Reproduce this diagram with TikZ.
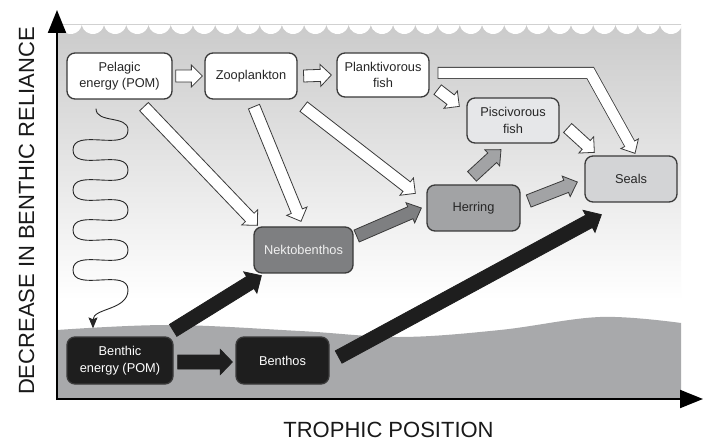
\documentclass[tikz,border=0pt]{standalone}
\usepackage{fontspec}
\setmainfont{Liberation Sans}
\usetikzlibrary{arrows.meta,calc}

\definecolor{edge}{HTML}{3A3A3A}
\definecolor{watertop}{HTML}{CBCBCB}
\definecolor{seabed}{HTML}{A8A9AB}
\definecolor{piscgray}{HTML}{E6E7E9}
\definecolor{sealgray}{HTML}{D3D4D6}
\definecolor{herrgray}{HTML}{A2A3A5}
\definecolor{nektgray}{HTML}{7E7F81}
\definecolor{benthblack}{HTML}{1E1E1E}

\tikzset{
  box/.style={draw=edge, line width=1.3pt, rounded corners=8pt, minimum height=46pt,
    inner sep=0pt, align=center, text=black!85, font=\fontsize{12.8}{16.5}\selectfont},
  whitearrow/.style={fill=white, draw=edge, line width=0.8pt, line join=miter},
  grayarrow/.style={fill=herrgray, draw=edge, line width=0.8pt, line join=miter},
  darkarrow/.style={fill=nektgray, draw=edge, line width=0.8pt, line join=miter},
  blackarrow/.style={fill=benthblack, draw=benthblack, line width=0.8pt, line join=miter},
  axislabel/.style={inner sep=0pt, font=\fontsize{22}{26}\selectfont, text=black!90},
  axisline/.style={line width=2pt, -{Triangle[length=23pt,width=18pt]}},
  squiggle/.style={line width=0.9pt, draw=black!85, -{Stealth[length=11pt,width=9pt,inset=2pt]}}
}

% fat arrow: style, from, to, shaft half width, head half width, head length
\newcommand{\fatarrow}[6]{%
  \coordinate (fa-s) at #2;
  \coordinate (fa-e) at #3;
  \coordinate (fa-b) at ($(fa-e)!#6pt!(fa-s)$);
  \draw[#1] ($(fa-s)!#4pt!90:(fa-e)$) -- ($(fa-b)!#4pt!-90:(fa-s)$)
    -- ($(fa-b)!#5pt!-90:(fa-s)$) -- (fa-e) -- ($(fa-b)!#5pt!90:(fa-s)$)
    -- ($(fa-b)!#4pt!90:(fa-s)$) -- ($(fa-s)!#4pt!-90:(fa-e)$) -- cycle;
}

\begin{document}
\begin{tikzpicture}[x=1pt,y=-1pt]
  \useasboundingbox (0,0) rectangle (706,443);
  \fill[white] (0,0) rectangle (706,443);

  % water column and sea bed
  \shade[top color=watertop, bottom color=white] (57,25) rectangle (681,300);
  \fill[white] (57,300) rectangle (681,399);
  \foreach \i in {0,...,27}
    \fill[white] (59.5+22.236*\i,25) arc[start angle=192,end angle=348,radius=11.37pt] -- cycle;
  \fill[seabed] (57,399) -- plot[smooth,tension=0.6] coordinates
    {(57,330) (170,325) (300,331) (400,337) (500,330) (600,317) (681,323)} -- (681,399) -- cycle;

  % axes
  \coordinate (origin) at (57,399);
  \coordinate (ytip) at (57,10);
  \coordinate (xtip) at (703,399);
  \draw[axisline] ([yshift=-1pt]origin) -- (ytip);
  \draw[axisline] ([xshift=-1pt]origin) -- (xtip);
  \node[axislabel, rotate=90] (ylabel) at (26.5,211) {DECREASE IN BENTHIC RELIANCE};
  \node[axislabel] (xlabel) at (388.5,430) {TROPHIC POSITION};

  % compartments
  \node[box, fill=white, minimum width=105pt] (pelagic) at (119.5,76) {Pelagic\\energy (POM)};
  \node[box, fill=white, minimum width=92pt] (zoopl) at (251,76) {Zooplankton};
  \node[box, fill=white, minimum width=92pt, minimum height=44pt] (plankt) at (383,75) {Planktivorous\\fish};
  \node[box, fill=piscgray, minimum width=92pt, minimum height=45pt] (pisciv) at (513,120.5) {Piscivorous\\fish};
  \node[box, fill=sealgray, minimum width=92pt] (seals) at (631,179) {Seals};
  \node[box, fill=herrgray, minimum width=93pt] (herring) at (473.5,208) {Herring};
  \node[box, fill=nektgray, minimum width=99pt, text=white!94!black] (nekto) at (303.5,250) {Nektobenthos};
  \node[box, fill=benthblack, minimum width=106pt, minimum height=47pt, text=white] (benthic) at (120,360.5) {Benthic\\energy (POM)};
  \node[box, fill=benthblack, minimum width=93pt, minimum height=47pt, text=white] (benthos) at (282.5,360.5) {Benthos};

  % sinking of pelagic matter
  \coordinate (sq-start) at ([shift={(-23.5,9)}]pelagic.south);
  \coordinate (sq-end) at ([shift={(-27,-8)}]benthic.north);
  \draw[squiggle] (sq-start) to[out=-90,in=90] (128,130)
    \foreach \k in {0,...,3} { to[out=-90,in=90] (73,150+40*\k) to[out=-90,in=90] (128,170+40*\k) }
    to[out=-90,in=90] (sq-end);

  % pelagic pathways
  \fatarrow{whitearrow}{([shift={(3,0)}]pelagic.east)}{([shift={(-2,0)}]zoopl.west)}{6}{11}{11}
  \fatarrow{whitearrow}{([shift={(6,0)}]zoopl.east)}{([shift={(-5,0)}]plankt.west)}{6}{11}{11}
  \fatarrow{whitearrow}{([shift={(24.5,7)}]pelagic.south)}{([shift={(4,-1)}]nekto.north west)}{6}{11}{11}
  \fatarrow{whitearrow}{([shift={(3,7)}]zoopl.south)}{([shift={(-2.5,-5)}]nekto.north)}{6}{11}{11}
  \fatarrow{whitearrow}{([shift={(6,7)}]zoopl.south east)}{([shift={(-11,9)}]herring.north west)}{6}{11}{11}
  \fatarrow{whitearrow}{([shift={(8,-8)}]plankt.south east)}{([shift={(-7,9)}]pisciv.north west)}{6}{11}{11}
  \fatarrow{whitearrow}{([shift={(8,7.5)}]pisciv.east)}{([shift={(10,-3)}]seals.north west)}{6}{11}{11}

  % planktivorous fish to seals (bent)
  \coordinate (pk-s) at ([shift={(8,-2)}]plankt.east);
  \coordinate (pk-m) at ($(pk-s -| seals.west)+(6,0)$);
  \coordinate (pk-e) at ([shift={(4,-2)}]seals.north);
  \coordinate (pk-b) at ($(pk-e)!11pt!(pk-m)$);
  \draw[line width=12pt, draw=edge, line join=miter] (pk-s) -- (pk-m) -- (pk-b);
  \draw[whitearrow] ($(pk-b)!10pt!90:(pk-e)$) -- (pk-e) -- ($(pk-b)!10pt!-90:(pk-e)$) -- cycle;
  \draw[line width=10.4pt, white, line join=miter, shorten <=0.8pt, shorten >=-1.2pt] (pk-s) -- (pk-m) -- (pk-b);

  % mixed pathways
  \fatarrow{darkarrow}{([shift={(3,-14)}]nekto.east)}{([shift={(-5,0)}]herring.west)}{6.5}{11}{12}
  \fatarrow{grayarrow}{([shift={(-1.5,-8)}]herring.north)}{([shift={(-12,6)}]pisciv.south)}{6.5}{11}{12}
  \fatarrow{grayarrow}{([shift={(8,-7)}]herring.east)}{([shift={(-7,3)}]seals.west)}{6.5}{11}{12}

  % benthic pathways
  \fatarrow{blackarrow}{([shift={(-0.5,-6)}]benthic.north east)}{([shift={(8,2)}]nekto.south west)}{7}{12.5}{13}
  \fatarrow{blackarrow}{([shift={(4,1.5)}]benthic.east)}{([shift={(-3,1.5)}]benthos.west)}{7}{12.5}{12}
  \fatarrow{blackarrow}{([shift={(9,-3.5)}]benthos.east)}{([shift={(17,12)}]seals.south west)}{7}{12.5}{14}
\end{tikzpicture}
\end{document}
